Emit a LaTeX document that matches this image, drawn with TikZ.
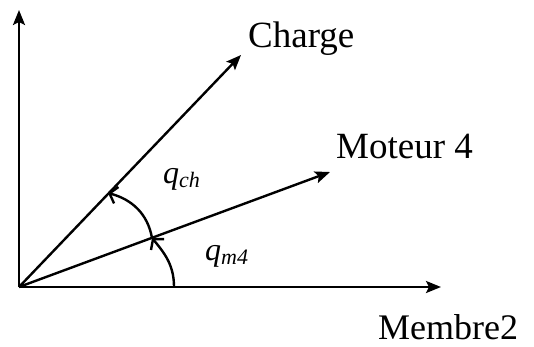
\documentclass[tikz,border=0pt]{standalone}
\usepackage{fontspec}
\setmainfont{Liberation Serif}
\usetikzlibrary{arrows.meta}
\begin{document}
\begin{tikzpicture}[x=1pt,y=1pt,
  axis/.style={line width=2.4pt,-{Stealth[length=15pt,width=12pt,inset=3pt]}},
  anglearc/.style={line width=2.4pt,-{Straight Barb[length=7pt,width=17pt]}},
  biglabel/.style={inner sep=0pt,anchor=base west,font=\fontsize{37}{37}\selectfont},
  qlabel/.style={inner sep=0pt,anchor=base west,font=\fontsize{32}{32}\selectfont\itshape}]
\useasboundingbox (0,0) rectangle (534,346);
\coordinate (O) at (19,59);
\coordinate (Y) at (19,336);
\coordinate (X) at (441,59);
\coordinate (C) at (241,291);
\coordinate (M) at (330,174);
\coordinate (A1s) at (174,59);
\coordinate (A1e) at (152,108);
\coordinate (A2e) at (108,153);
\draw[axis] (O) -- (Y);
\draw[axis] (O) -- (X);
\draw[axis] (O) -- (C);
\draw[axis] (O) -- (M);
\draw[anglearc] (A1s) to[out=90,in=-50] (A1e);
\draw[anglearc] (A1e) to[out=100,in=-15] (A2e);
\node[biglabel] (lc) at (248,298) {Charge};
\node[biglabel] (lm) at (336,188) {Moteur 4};
\node[biglabel,font=\fontsize{36}{36}\selectfont] (lb) at (378,7) {Membre2};
\node[qlabel] (qch) at (163,163) {q\raisebox{-4pt}{\fontsize{22}{22}\selectfont ch}};
\node[qlabel] (qm) at (205,86) {q\raisebox{-4pt}{\fontsize{22}{22}\selectfont m4}};
\end{tikzpicture}
\end{document}
